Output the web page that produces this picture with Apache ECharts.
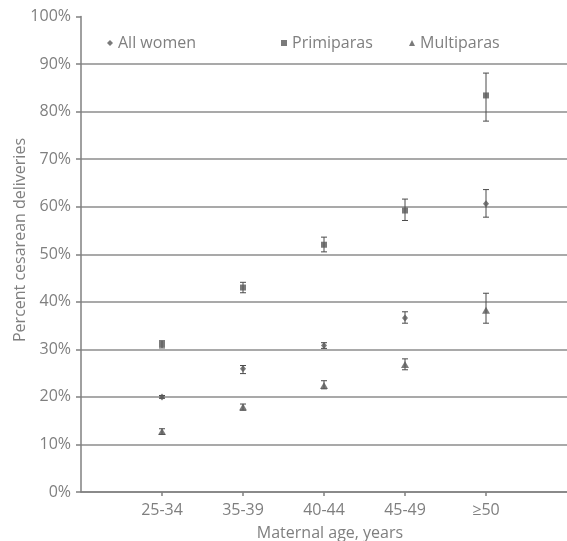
<!DOCTYPE html>
<html>
<head>
<meta charset="utf-8">
<script src="https://cdn.jsdelivr.net/npm/echarts@6/dist/echarts.min.js"></script>
<style>
html,body{margin:0;padding:0;background:#fff;}
#chart{width:567px;height:541px;}
</style>
</head>
<body>
<div id="chart"></div>
<script>
const categories = ['25-34', '35-39', '40-44', '45-49', '≥50'];
const yTicks = [0, 10, 20, 30, 40, 50, 60, 70, 80, 90, 100];

const allWomen = [20.0, 25.9, 30.8, 36.6, 60.6];
const allLow   = [19.7, 24.9, 30.2, 35.5, 57.8];
const allHigh  = [20.3, 26.6, 31.4, 37.9, 63.6];

const primiparas = [31.1, 43.0, 52.0, 59.2, 83.4];
const primLow    = [30.3, 41.9, 50.5, 57.1, 78.0];
const primHigh   = [31.8, 44.1, 53.6, 61.6, 88.1];

const multiparas = [12.7, 17.9, 22.4, 26.8, 38.2];
const multLow    = [12.1, 17.2, 21.7, 25.7, 35.5];
const multHigh   = [13.3, 18.5, 23.4, 28.0, 41.8];

const TEXT = '#7f7f7f';
const MARK = '#595959';
const FONT = 'Open Sans';

function pts(vals) { return vals.map((v, i) => [i + 1, v]); }
function errs(lo, hi) { return lo.map((v, i) => [i + 1, v, hi[i]]); }

function errRender(params, api) {
  const x = api.value(0);
  const p1 = api.coord([x, api.value(1)]);
  const p2 = api.coord([x, api.value(2)]);
  const w = 3;
  const style = { stroke: '#4a4a4a', lineWidth: 1 };
  return {
    type: 'group',
    children: [
      { type: 'line', shape: { x1: p1[0], y1: p1[1], x2: p2[0], y2: p2[1] }, style: style },
      { type: 'line', shape: { x1: p1[0] - w, y1: p1[1], x2: p1[0] + w, y2: p1[1] }, style: style },
      { type: 'line', shape: { x1: p2[0] - w, y1: p2[1], x2: p2[0] + w, y2: p2[1] }, style: style }
    ]
  };
}

function errSeries(lo, hi) {
  return {
    type: 'custom',
    renderItem: errRender,
    data: errs(lo, hi),
    encode: { x: 0, y: [1, 2] },
    silent: true,
    z: 1
  };
}

const legendBase = {
  top: 35,
  padding: 0,
  itemWidth: 6,
  itemHeight: 6,
  textStyle: { color: TEXT, fontSize: 16, fontFamily: FONT },
  selectedMode: false
};

const chart = echarts.init(document.getElementById('chart'), null, { renderer: 'canvas' });
chart.setOption({
  animation: false,
  backgroundColor: '#ffffff',
  grid: { left: 81, top: 16.5, width: 489.6, height: 475.5 },
  legend: [
    Object.assign({}, legendBase, { left: 107, data: [{ name: 'All women', icon: 'diamond' }] }),
    Object.assign({}, legendBase, { left: 281, data: [{ name: 'Primiparas', icon: 'rect' }] }),
    Object.assign({}, legendBase, { left: 409, data: [{ name: 'Multiparas', icon: 'triangle' }] })
  ],
  xAxis: {
    type: 'value',
    min: 0,
    max: 6,
    interval: 1,
    axisLine: { show: true, onZero: false, lineStyle: { color: '#808080', width: 1.5 } },
    axisTick: { show: true, length: 4, customValues: [1, 2, 3, 4, 5], lineStyle: { color: '#808080', width: 1.5 } },
    axisLabel: {
      customValues: [1, 2, 3, 4, 5],
      margin: 10,
      color: TEXT, fontSize: 16, fontFamily: FONT,
      formatter: v => categories[v - 1] || ''
    },
    splitLine: { show: false }
  },
  yAxis: {
    type: 'value',
    min: yTicks[0],
    max: yTicks[yTicks.length - 1],
    interval: 10,
    axisLine: { show: true, lineStyle: { color: '#808080', width: 1.5 } },
    axisTick: { show: true, length: 5, lineStyle: { color: '#808080', width: 1.5 } },
    axisLabel: { margin: 10, color: TEXT, fontSize: 16, fontFamily: FONT, formatter: '{value}%' },
    splitLine: { show: true, showMaxLine: false, lineStyle: { color: '#8c8c8c', width: 1.5 } }
  },
  graphic: [
    {
      type: 'text',
      x: 20, y: 240,
      rotation: Math.PI / 2,
      style: { text: 'Percent cesarean deliveries', fill: TEXT, font: '16px "Open Sans"', textAlign: 'center', textVerticalAlign: 'middle' }
    },
    {
      type: 'text',
      x: 330, y: 533,
      style: { text: 'Maternal age, years', fill: TEXT, font: '16px "Open Sans"', textAlign: 'center', textVerticalAlign: 'middle' }
    }
  ],
  series: [
    errSeries(allLow, allHigh),
    errSeries(primLow, primHigh),
    errSeries(multLow, multHigh),
    { name: 'All women', type: 'scatter', symbol: 'diamond', symbolSize: [6, 7], itemStyle: { color: MARK }, data: pts(allWomen), z: 3 },
    { name: 'Primiparas', type: 'scatter', symbol: 'rect', symbolSize: 6, itemStyle: { color: MARK }, data: pts(primiparas), z: 3 },
    { name: 'Multiparas', type: 'scatter', symbol: 'triangle', symbolSize: [8, 7], itemStyle: { color: MARK }, data: pts(multiparas), z: 3 }
  ]
});
</script>
</body>
</html>
